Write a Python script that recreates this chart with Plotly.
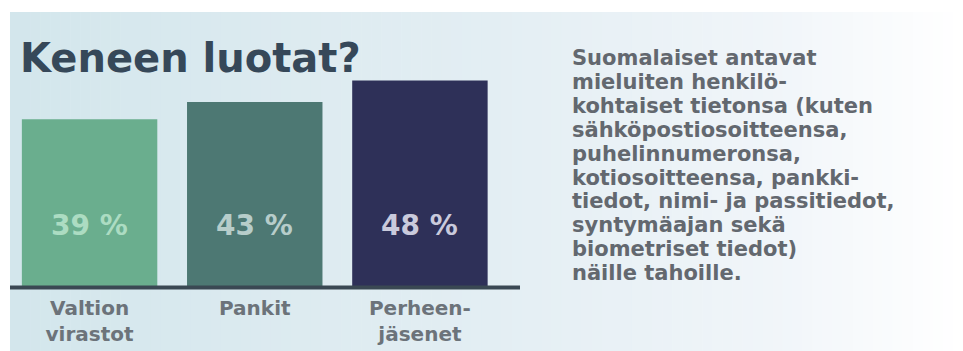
import plotly.graph_objects as go

W, H = 963, 351

# --- data -----------------------------------------------------------------
categories = ["Valtion<br>virastot", "Pankit", "Perheen-<br>jäsenet"]
values = [39, 43, 48]
value_suffix = " %"
title_text = "Keneen luotat?"
side_lines = [
    "Suomalaiset antavat",
    "mieluiten henkilö-",
    "kohtaiset tietonsa (kuten",
    "sähköpostiosoitteensa,",
    "puhelinnumeronsa,",
    "kotiosoitteensa, pankki-",
    "tiedot, nimi- ja passitiedot,",
    "syntymäajan sekä",
    "biometriset tiedot)",
    "näille tahoille.",
]

# --- styling --------------------------------------------------------------
bar_colors = ["#6aae8e", "#4d7873", "#2e3058"]
label_colors = ["#acdcc2", "#b7cdca", "#c9cadc"]
title_color = "#364859"
text_color = "#63686f"
axis_label_color = "#6c737a"
FONT = "DejaVu Sans"


def px_x(x):
    return x / W


def px_y(y):
    return 1 - y / H


def lerp_hex(c1, c2, t):
    a = [int(c1[i:i + 2], 16) for i in (1, 3, 5)]
    b = [int(c2[i:i + 2], 16) for i in (1, 3, 5)]
    return "#" + "".join(f"{round(a[k] + (b[k] - a[k]) * t):02x}" for k in range(3))


# horizontal gradient stops for the backdrop panel
grad_stops = [(0.0, "#d3e6ec"), (0.5, "#e3eef3"), (0.8, "#f0f5f9"), (1.0, "#ffffff")]


def grad_color(t):
    for (t0, c0), (t1, c1) in zip(grad_stops[:-1], grad_stops[1:]):
        if t <= t1:
            return lerp_hex(c0, c1, (t - t0) / (t1 - t0))
    return grad_stops[-1][1]


PX_PER_UNIT = 4.3
BASE_Y = 287
TOP_Y = 12

fig = go.Figure()
fig.add_trace(go.Bar(
    x=categories,
    y=values,
    marker=dict(color=bar_colors, line=dict(width=0)),
    hoverinfo="skip",
))

shapes = []
# gradient panel built from thin vertical strips
x0, x1 = 10, W
n = 95
for i in range(n):
    xa = x0 + (x1 - x0) * i / n
    xb = x0 + (x1 - x0) * (i + 1) / n + 0.6
    shapes.append(dict(
        type="rect", xref="paper", yref="paper",
        x0=px_x(xa), x1=min(1, px_x(xb)), y0=0, y1=px_y(TOP_Y),
        fillcolor=grad_color(i / (n - 1)), line=dict(width=0), layer="below",
    ))
# baseline under the bars
shapes.append(dict(
    type="line", xref="paper", yref="paper",
    x0=px_x(10), x1=px_x(520), y0=px_y(BASE_Y + 0.5), y1=px_y(BASE_Y + 0.5),
    line=dict(color="#3a4853", width=4), layer="above",
))

annotations = [dict(
    text=title_text, xref="paper", yref="paper",
    x=px_x(18), y=px_y(58), xanchor="left", yanchor="middle",
    showarrow=False, font=dict(family=FONT, size=40, color=title_color, weight="bold"),
)]
for cat, v, col in zip(categories, values, label_colors):
    annotations.append(dict(
        text=f"{v}{value_suffix}", x=cat, y=62 / PX_PER_UNIT, xref="x", yref="y",
        xanchor="center", yanchor="middle", showarrow=False,
        font=dict(family=FONT, size=28, color=col, weight="bold"),
    ))
for i, line in enumerate(side_lines):
    annotations.append(dict(
        text=line, xref="paper", yref="paper",
        x=px_x(570), y=px_y(58 + 23.9 * i), xanchor="left", yanchor="middle",
        showarrow=False, font=dict(family=FONT, size=21, color=text_color, weight="bold"),
    ))

fig.update_layout(
    width=W, height=H,
    margin=dict(l=0, r=0, t=0, b=0),
    paper_bgcolor="#ffffff",
    plot_bgcolor="rgba(0,0,0,0)",
    showlegend=False,
    bargap=0.18,
    shapes=shapes,
    annotations=annotations,
    xaxis=dict(
        domain=[px_x(7), px_x(502.5)], type="category", range=[-0.5, 2.5],
        showgrid=False, zeroline=False, showline=False, ticks="",
        ticklabelstandoff=7,
        tickfont=dict(family=FONT, size=20, color=axis_label_color, weight="bold"),
        fixedrange=True,
    ),
    yaxis=dict(
        domain=[px_y(BASE_Y), px_y(TOP_Y)],
        range=[0, (BASE_Y - TOP_Y) / PX_PER_UNIT],
        visible=False, fixedrange=True,
    ),
)

fig.write_html("out.html")
